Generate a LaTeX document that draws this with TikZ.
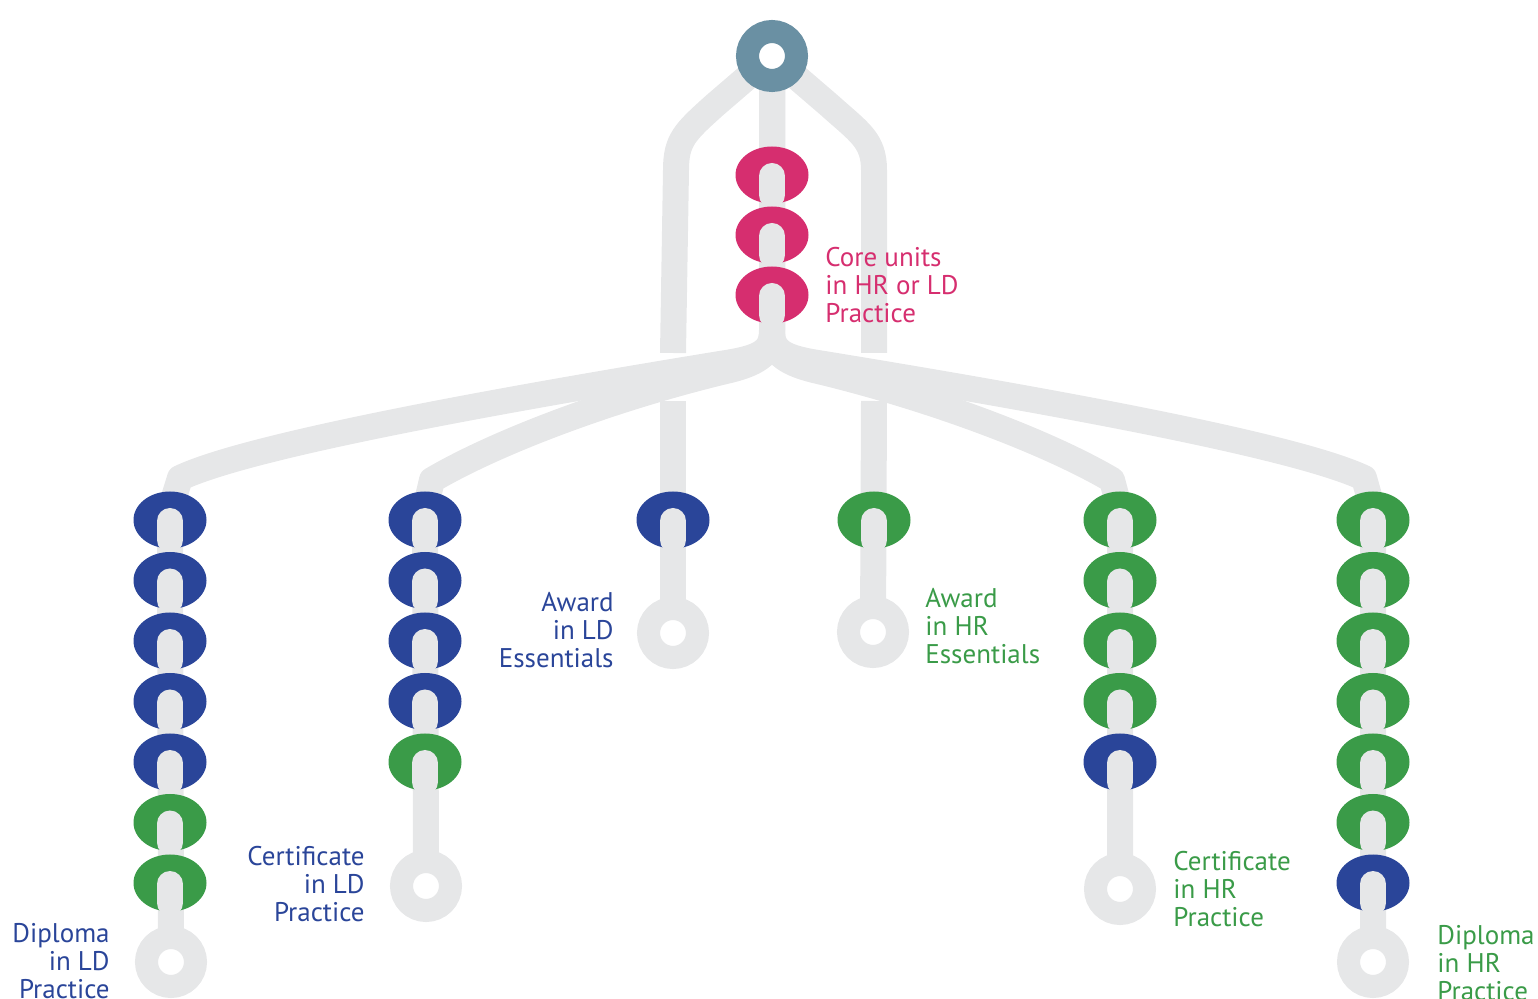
\documentclass[tikz,border=0pt]{standalone}
\usepackage{fontspec}
\setmainfont{PT Sans}
\usetikzlibrary{shapes.geometric}
\definecolor{trk}{HTML}{E6E7E8}
\definecolor{ldblue}{HTML}{2A4599}
\definecolor{hrgreen}{HTML}{3A9B48}
\definecolor{corepink}{HTML}{D62E6F}
\definecolor{topring}{HTML}{6A90A3}
\begin{document}
\begin{tikzpicture}[x=0.5pt,y=-0.5pt,
  track/.style={draw=trk,line width=13pt,line join=round},
  bead/.style={ellipse,inner sep=0pt,minimum width=36.5pt,minimum height=28.5pt,draw=none},
  bar/.style={draw=trk,line width=13pt,line cap=round},
  ring/.style={circle,inner sep=0pt,minimum size=24.5pt,line width=11.5pt,fill=white},
  lbl/.style={inner sep=0pt,font=\fontsize{13.5}{14}\selectfont},
  lblL/.style={lbl,align=left,anchor=north west},
  lblR/.style={lbl,align=right,anchor=north east},
]
\useasboundingbox (0,0) rectangle (1538,999);
\clip (0,0) rectangle (1538,999);

% key points
\coordinate (top) at (772,56);
\coordinate (dlEnd) at (171,962);
\coordinate (clEnd) at (426,886);
\coordinate (alEnd) at (673,633);
\coordinate (ahEnd) at (873,632);
\coordinate (chEnd) at (1120,889);
\coordinate (dhEnd) at (1373,962);
\coordinate (alTop) at (673,401);
\coordinate (ahTop) at (874,401);

% ---- tracks ----
% centre line
\draw[track] (top) -- (772,340);
% side loops from the top ring (interrupted where the fan passes)
\draw[track] (top) -- (715,105) .. controls (685,132) and (676,140) .. (676,170) -- (673,353);
\draw[track] (top) -- (829,105) .. controls (859,132) and (874,140) .. (874,170) -- (874,353);
\draw[track] (alTop) -- (alEnd);
\draw[track] (ahTop) -- (ahEnd);
% fan: outer branches
\draw[track] (top) -- (772,330) .. controls (772,352) and (760,358) .. (720,364)
  .. controls (500,400) and (250,445) .. (180,478) -- (170,510) -- (dlEnd);
\draw[track] (top) -- (772,330) .. controls (772,352) and (784,358) .. (824,364)
  .. controls (1044,400) and (1294,445) .. (1364,478) -- (1373,510) -- (dhEnd);
% fan: inner branches
\draw[track] (top) -- (772,335) .. controls (772,355) and (754,364) .. (730,370)
  .. controls (620,396) and (500,440) .. (432,480) -- (425,510) -- (clEnd);
\draw[track] (top) -- (772,335) .. controls (772,355) and (790,364) .. (814,370)
  .. controls (924,396) and (1044,440) .. (1112,480) -- (1120,510) -- (chEnd);

% ---- beads ----
\foreach \c [count=\i from 0] in {corepink,corepink,corepink}{
  \node[bead,fill=\c] (core\i) at (772,175+60*\i) {};
  \draw[bar] ([yshift=-0.5pt]core\i.center) -- ([yshift=-10pt]core\i.center);
}
\foreach \c [count=\i from 0] in {ldblue,ldblue,ldblue,ldblue,ldblue,hrgreen,hrgreen}{
  \node[bead,fill=\c] (dl\i) at (170,520+60.5*\i) {};
  \draw[bar] ([yshift=-0.5pt]dl\i.center) -- ([yshift=-10pt]dl\i.center);
}
\foreach \c [count=\i from 0] in {ldblue,ldblue,ldblue,ldblue,hrgreen}{
  \node[bead,fill=\c] (cl\i) at (425,520+60.5*\i) {};
  \draw[bar] ([yshift=-0.5pt]cl\i.center) -- ([yshift=-10pt]cl\i.center);
}
\node[bead,fill=ldblue] (al0) at (673,520) {};
\draw[bar] ([yshift=-0.5pt]al0.center) -- ([yshift=-10pt]al0.center);
\node[bead,fill=hrgreen] (ah0) at (874,520) {};
\draw[bar] ([yshift=-0.5pt]ah0.center) -- ([yshift=-10pt]ah0.center);
\foreach \c [count=\i from 0] in {hrgreen,hrgreen,hrgreen,hrgreen,ldblue}{
  \node[bead,fill=\c] (ch\i) at (1120,520+60.5*\i) {};
  \draw[bar] ([yshift=-0.5pt]ch\i.center) -- ([yshift=-10pt]ch\i.center);
}
\foreach \c [count=\i from 0] in {hrgreen,hrgreen,hrgreen,hrgreen,hrgreen,hrgreen,ldblue}{
  \node[bead,fill=\c] (dh\i) at (1373,520+60.5*\i) {};
  \draw[bar] ([yshift=-0.5pt]dh\i.center) -- ([yshift=-10pt]dh\i.center);
}

% ---- rings ----
\node[ring,draw=topring] (topR) at (top) {};
\node[ring,draw=trk] (dlR) at (dlEnd) {};
\node[ring,draw=trk] (clR) at (clEnd) {};
\node[ring,draw=trk] (alR) at (alEnd) {};
\node[ring,draw=trk] (ahR) at (ahEnd) {};
\node[ring,draw=trk] (chR) at (chEnd) {};
\node[ring,draw=trk] (dhR) at (dhEnd) {};

% ---- labels ----
\node[lblL,text=corepink] (coreT) at (825,247) {Core units\\in HR or LD\\Practice};
\node[lblR,text=ldblue] (alT) at (614,592) {Award\\in LD\\Essentials};
\node[lblL,text=hrgreen] (ahT) at (925,588) {Award\\in HR\\Essentials};
\node[lblR,text=ldblue] (clT) at (365,846) {Certificate\\in LD\\Practice};
\node[lblL,text=hrgreen] (chT) at (1173,851) {Certificate\\in HR\\Practice};
\node[lblR,text=ldblue] (dlT) at (110,923) {Diploma\\in LD\\Practice};
\node[lblL,text=hrgreen] (dhT) at (1437,925) {Diploma\\in HR\\Practice};
\end{tikzpicture}
\end{document}
